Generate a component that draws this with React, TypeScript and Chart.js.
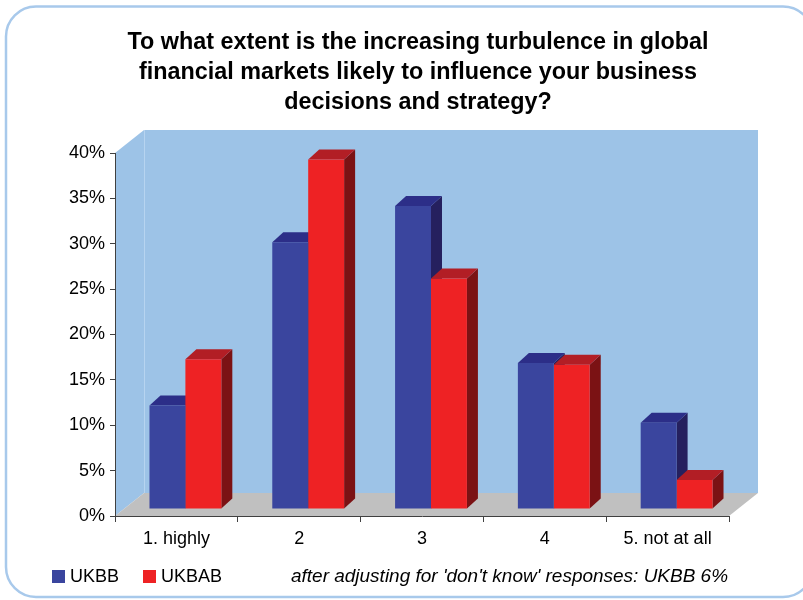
import React, { useEffect, useRef } from 'react';
import { Chart, registerables } from 'chart.js';

Chart.register(...registerables);

const categories = ['1. highly', '2', '3', '4', '5. not at all'];
const seriesNames = ['UKBB', 'UKBAB'];
const ukbbValues = [11.4, 29.4, 33.4, 16.1, 9.5];
const ukbabValues = [16.5, 38.5, 25.4, 15.9, 3.2];
const yTickValues = [0, 5, 10, 15, 20, 25, 30, 35, 40];
const titleLines = [
  'To what extent is the increasing turbulence in global',
  'financial markets likely to influence your business',
  'decisions and strategy?',
];
const noteText = "after adjusting for 'don't know' responses: UKBB 6%";

const FONT = '"Liberation Sans", Arial, sans-serif';
const FRONT = ['#3A459E', '#EE2224'];
const TOP = ['#2C2E88', '#B21E25'];
const SIDE = ['#25205E', '#7B1214'];
const WALL = '#9DC3E7';
const FLOOR = '#C0C0C0';
const WALL_D = { x: 29, y: 23 };
const BAR_SHIFT = { x: 9, y: 7 };
const BAR_D = { x: 11, y: 10 };

function poly(ctx: CanvasRenderingContext2D, pts: number[][], fill: string) {
  ctx.beginPath();
  ctx.moveTo(pts[0][0], pts[0][1]);
  for (let i = 1; i < pts.length; i++) ctx.lineTo(pts[i][0], pts[i][1]);
  ctx.closePath();
  ctx.fillStyle = fill;
  ctx.fill();
}

function fitText(ctx: CanvasRenderingContext2D, text: string, x: number, y: number, width: number) {
  const w = ctx.measureText(text).width;
  ctx.save();
  ctx.translate(x, y);
  ctx.scale(width / w, 1);
  ctx.fillText(text, 0, 0);
  ctx.restore();
}

const scenePlugin = {
  id: 'scene3d',
  beforeDraw(chart: any) {
    const { ctx, chartArea: a } = chart;
    ctx.save();
    ctx.beginPath();
    (ctx as any).roundRect(6, 6.5, 807, 590.5, 30);
    ctx.strokeStyle = '#A8C9EB';
    ctx.lineWidth = 2.5;
    ctx.stroke();
    const dx = WALL_D.x, dy = WALL_D.y;
    ctx.fillStyle = WALL;
    ctx.fillRect(a.left + dx, a.top - dy, a.right - a.left, a.bottom - a.top);
    poly(ctx, [[a.left, a.top], [a.left + dx, a.top - dy], [a.left + dx, a.bottom - dy], [a.left, a.bottom]], WALL);
    ctx.beginPath();
    ctx.moveTo(a.left + dx + 0.5, a.top - dy);
    ctx.lineTo(a.left + dx + 0.5, a.bottom - dy);
    ctx.strokeStyle = '#B7D4F0';
    ctx.lineWidth = 1;
    ctx.stroke();
    poly(ctx, [[a.left, a.bottom], [a.right, a.bottom], [a.right + dx, a.bottom - dy], [a.left + dx, a.bottom - dy]], FLOOR);
    ctx.restore();
  },
  beforeDatasetsDraw(chart: any) {
    const ctx: CanvasRenderingContext2D = chart.ctx;
    const n = chart.data.labels.length;
    ctx.save();
    for (let i = 0; i < n; i++) {
      for (let d = 0; d < chart.data.datasets.length; d++) {
        const el = chart.getDatasetMeta(d).data[i];
        const { x, y, base, width } = el.getProps(['x', 'y', 'base', 'width'], true);
        const l = x - width / 2 + BAR_SHIFT.x;
        const r = x + width / 2 + BAR_SHIFT.x;
        const t = y - BAR_SHIFT.y;
        const b = base - BAR_SHIFT.y;
        poly(ctx, [[r, t], [r + BAR_D.x, t - BAR_D.y], [r + BAR_D.x, b - BAR_D.y], [r, b]], SIDE[d]);
        poly(ctx, [[l, t], [l + BAR_D.x, t - BAR_D.y], [r + BAR_D.x, t - BAR_D.y], [r, t]], TOP[d]);
      }
    }
    ctx.restore();
    ctx.save();
    ctx.translate(BAR_SHIFT.x, -BAR_SHIFT.y);
  },
  afterDatasetsDraw(chart: any) {
    chart.ctx.restore();
  },
  afterDraw(chart: any) {
    const ctx: CanvasRenderingContext2D = chart.ctx;
    ctx.save();
    // title
    ctx.font = `bold 23px ${FONT}`;
    ctx.fillStyle = '#000';
    ctx.textAlign = 'center';
    ctx.textBaseline = 'alphabetic';
    const w0 = ctx.measureText(titleLines[0]).width;
    const sx = 581 / w0;
    const baselines = [48.5, 78.5, 108.5];
    titleLines.forEach((line, i) => {
      ctx.save();
      ctx.translate(418, baselines[i]);
      ctx.scale(sx, 1);
      ctx.fillText(line, 0, 0);
      ctx.restore();
    });
    // legend
    ctx.textAlign = 'left';
    ctx.font = `18px ${FONT}`;
    const boxX = [52, 143];
    chart.data.datasets.forEach((ds: any, d: number) => {
      ctx.fillStyle = ds.backgroundColor;
      ctx.fillRect(boxX[d], 570, 13, 13);
      ctx.fillStyle = '#000';
      ctx.fillText(ds.label, boxX[d] + 18, 582);
    });
    ctx.font = `italic 18.5px ${FONT}`;
    fitText(ctx, noteText, 291, 582, 437);
    ctx.restore();
  },
};

export default function App() {
  const ref = useRef<HTMLCanvasElement>(null);
  useEffect(() => {
    const canvas = ref.current;
    if (!canvas) return;
    const chart = new Chart(canvas, {
      type: 'bar',
      data: {
        labels: categories,
        datasets: [
          { label: seriesNames[0], data: ukbbValues, backgroundColor: FRONT[0], borderWidth: 0, categoryPercentage: 0.585, barPercentage: 1 },
          { label: seriesNames[1], data: ukbabValues, backgroundColor: FRONT[1], borderWidth: 0, categoryPercentage: 0.585, barPercentage: 1 },
        ],
      },
      options: {
        responsive: false,
        animation: false,
        devicePixelRatio: 1,
        layout: { padding: { top: 153, right: 74, bottom: 44, left: 0 } },
        plugins: {
          legend: { display: false },
          title: { display: false },
          tooltip: { enabled: false },
        },
        scales: {
          x: {
            afterFit: (s: any) => { s.height = 40; },
            grid: { drawOnChartArea: false, tickLength: 6, color: '#404040', offset: true },
            border: { color: '#404040', width: 1 },
            ticks: { font: { family: FONT, size: 18 }, color: '#000', padding: 6, maxRotation: 0 },
          },
          y: {
            min: 0,
            max: 40,
            afterFit: (s: any) => { s.width = 115; },
            afterBuildTicks: (s: any) => { s.ticks = yTickValues.map((v) => ({ value: v })); },
            grid: { drawOnChartArea: false, tickLength: 5, color: '#404040' },
            border: { color: '#404040', width: 1 },
            ticks: { font: { family: FONT, size: 18 }, color: '#000', padding: 5, callback: (v: any) => `${v}%` },
          },
        },
      },
      plugins: [scenePlugin],
    });
    return () => chart.destroy();
  }, []);
  return (
    <div style={{ position: 'absolute', left: 0, top: 0, width: 803, height: 600, background: '#fff' }}>
      <canvas ref={ref} width={803} height={600} style={{ display: 'block' }} />
    </div>
  );
}
